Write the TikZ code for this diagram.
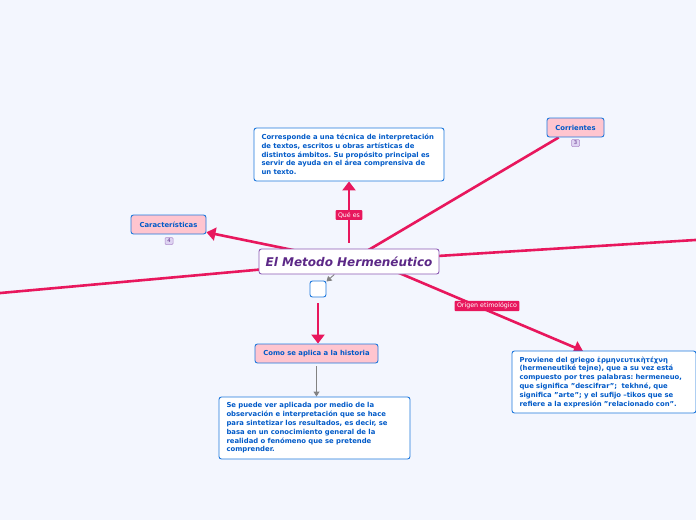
\documentclass[tikz,border=0pt]{standalone}
\usepackage{fontspec}
\setmainfont{DejaVu Sans}
\usetikzlibrary{arrows.meta,backgrounds,calc}
\frenchspacing
\definecolor{bgc}{RGB}{243,246,254}
\definecolor{mag}{RGB}{232,23,93}
\definecolor{bord}{RGB}{30,120,220}
\definecolor{btxt}{RGB}{0,90,200}
\definecolor{pinkf}{RGB}{255,197,207}
\definecolor{purb}{RGB}{140,90,180}
\definecolor{purt}{RGB}{92,40,135}
\definecolor{badgef}{RGB}{222,212,242}
\definecolor{grayc}{RGB}{130,130,130}
\pgfdeclarelayer{edges}
\pgfsetlayers{background,edges,main}
\tikzset{
  txtbox/.style={draw=bord, line width=0.9pt, fill=white, rounded corners=2.5pt, text=btxt,
    font=\fontsize{6.85}{8.8}\selectfont\bfseries, align=left, anchor=center,
    inner xsep=7.5pt, inner ysep=0pt},
  topicbox/.style={draw=bord, line width=0.9pt, fill=pinkf, rounded corners=2.5pt, text=btxt,
    font=\fontsize{6.85}{8}\selectfont\bfseries, inner sep=0pt},
  badge/.style={draw=purb!70, line width=0.5pt, fill=badgef, rounded corners=1pt, text=purt,
    font=\fontsize{5.2}{5.2}\selectfont, minimum width=8pt, minimum height=7pt, inner sep=0pt},
  lbl/.style={fill=mag, text=white, rounded corners=1pt, font=\fontsize{6.3}{6.5}\selectfont,
    inner xsep=2.5pt, inner ysep=2pt},
  magline/.style={draw=mag, line width=2.6pt},
  magarrow/.style={magline, -{Triangle[width=13pt,length=9pt]}},
  grayarrow/.style={draw=grayc, line width=0.9pt, -{Triangle[width=6pt,length=5pt]}},
}
\begin{document}
\begin{tikzpicture}[x=1pt,y=-1pt]
\useasboundingbox (0,0) rectangle (696,520);
\begin{pgfonlayer}{background}
\fill[bgc] (0,0) rectangle (696,520);
\end{pgfonlayer}

% central node
\node[draw=purb, line width=0.9pt, fill=white, rounded corners=2.5pt, text=purt,
  font=\fontsize{12}{13}\selectfont\bfseries\itshape, minimum width=180pt, minimum height=25pt, inner sep=0pt]
  (c) at (349,261.5) {El Metodo Hermenéutico};

% definition box
\node[txtbox, text width=175pt, minimum height=53pt] (def) at (349,154.5)
  {Corresponde a una técnica de interpretación\\de textos, escritos u obras artísticas de\\distintos ámbitos. Su propósito principal es\\servir de ayuda en el área comprensiva de\\un texto.};

% topics
\node[topicbox, minimum width=75pt, minimum height=19pt] (car) at (168.5,224.5) {Características};
\node[badge] (b4) at (169,241) {4};
\node[topicbox, minimum width=57pt, minimum height=19pt] (corr) at (575.5,127.5) {Corrientes};
\node[badge] (b3) at (575.5,143) {3};

% empty box
\node[draw=bord, line width=0.9pt, fill=white, rounded corners=2.5pt, minimum width=16pt, minimum height=16pt, inner sep=0pt] (eb) at (318,289) {};

% como se aplica
\node[topicbox, minimum width=123pt, minimum height=19pt] (como) at (316.5,353.5) {Como se aplica a la historia};
\node[txtbox, text width=176pt, minimum height=62pt] (se) at (314.5,428)
  {Se puede ver aplicada por medio de la\\observación e interpretación que se hace\\para sintetizar los resultados, es decir, se\\basa en un conocimiento general de la\\realidad o fenómeno que se pretende\\comprender.};

% origen
\node[txtbox, text width=169pt, minimum height=62pt] (prov) at (604,382)
  {Proviene del griego ἑρμηνευτικὴτέχνη\\(hermeneutiké tejne), que a su vez está\\compuesto por tres palabras: hermeneuo,\\que significa "descifrar";\ \ tekhné, que\\significa "arte"; y el sufijo –tikos que se\\refiere a la expresión "relacionado con".};

\coordinate (rightend) at (700,239.7);
\coordinate (leftend) at (-4,293.4);
\coordinate (orgstart) at (372,261.5);
\coordinate (orgtip) at (583,351);

\begin{pgfonlayer}{edges}
\draw[magline] (c.center) -- (rightend);
\draw[magline] (c.center) -- (leftend);
\draw[magline] (c.center) -- (corr);
\draw[magarrow] (c.center) -- (car);
\draw[magarrow, shorten <=6pt] (c.north) -- (def.south);
\draw[magarrow] (orgstart) -- (orgtip);
\draw[magarrow, shorten <=6pt] (eb.south) -- (eb.south |- como.north);
\draw[grayarrow] (c) -- (eb);
\draw[grayarrow, shorten <=3pt] (como.south) -- (como.south |- se.north);
\end{pgfonlayer}

\node[lbl] (lq) at (349,215) {Qué es};
\node[lbl] (lo) at (487,306) {Origen etimológico};
\end{tikzpicture}
\end{document}
